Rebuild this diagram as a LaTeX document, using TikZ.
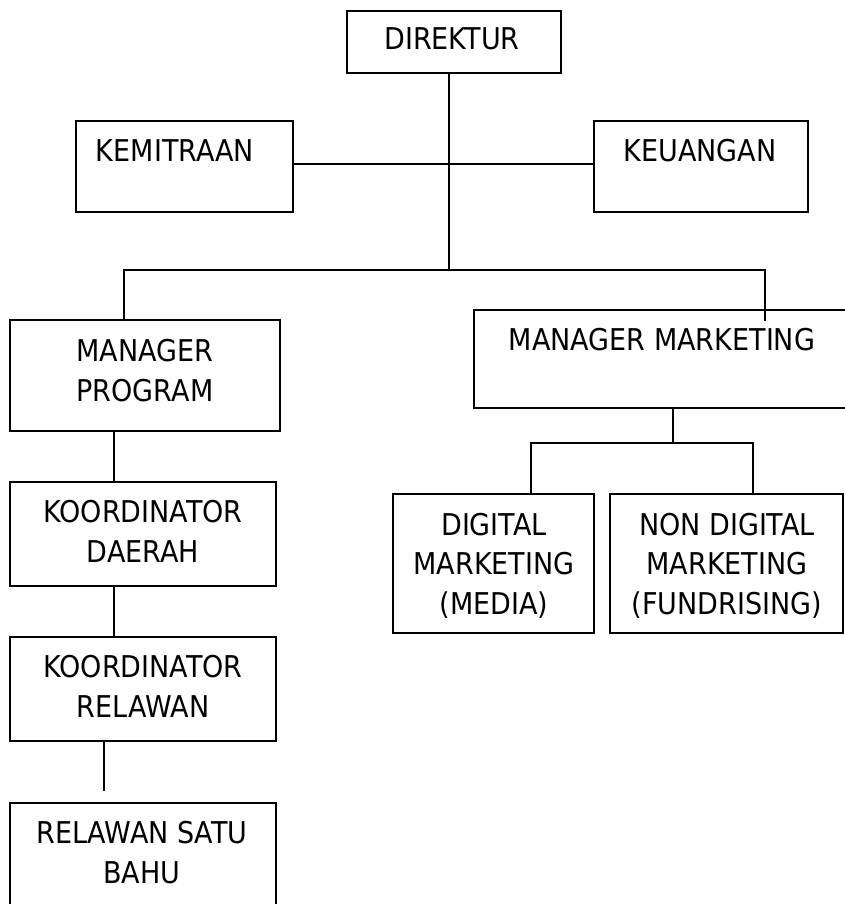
\documentclass[tikz,border=0pt]{standalone}
\usepackage{fontspec}
\setmainfont{DejaVu Sans}[FakeStretch=0.9]
\begin{document}
\begin{tikzpicture}[x=1pt,y=-1pt,
  box/.style={draw=black, line width=2pt, rectangle, anchor=north west, inner sep=0pt, outer sep=0pt},
  txt/.style={anchor=base, align=center, inner sep=0pt, text=black, font=\fontsize{30}{39.5}\selectfont},
  conn/.style={draw=black, line width=1.9pt}]
\clip (0,0) rectangle (845,904);
\fill[white] (0,0) rectangle (845,904);
% boxes
\node[box, minimum width=214pt, minimum height=62pt] (dir) at (347,11) {};
\node[box, minimum width=217pt, minimum height=91pt] (kem) at (76,121) {};
\node[box, minimum width=214pt, minimum height=91pt] (keu) at (594,121) {};
\node[box, minimum width=270pt, minimum height=111pt] (mp) at (10,320) {};
\node[box, minimum width=380pt, minimum height=98pt] (mm) at (474,310) {};
\node[box, minimum width=201pt, minimum height=139pt] (dig) at (393,494) {};
\node[box, minimum width=233pt, minimum height=139pt] (ndm) at (610,494) {};
\node[box, minimum width=266pt, minimum height=104pt] (kd) at (10,482) {};
\node[box, minimum width=266pt, minimum height=104pt] (kr) at (10,637) {};
\node[box, minimum width=266pt, minimum height=110pt] (rsb) at (10,803) {};
% texts (multi-line nodes are placed at the baseline of their last line)
\node[txt] (dirt) at (452,50) {DIREKTUR};
\node[txt] (kemt) at (175,162) {KEMITRAAN};
\node[txt] (keut) at (700,162) {KEUANGAN};
\node[txt] (mpt) at (145,401) {MANAGER\\PROGRAM};
\node[txt] (mmt) at (662,350) {MANAGER MARKETING};
\node[txt] (digt) at (494,614) {DIGITAL\\MARKETING\\(MEDIA)};
\node[txt] (ndmt) at (727,614) {NON DIGITAL\\MARKETING\\(FUNDRISING)};
\node[txt] (kdt) at (143,562) {KOORDINATOR\\DAERAH};
\node[txt] (krt) at (143,717) {KOORDINATOR\\RELAWAN};
\node[txt] (rsbt) at (142,883) {RELAWAN SATU\\BAHU};
% helper coordinates
\coordinate (hub) at (449,270);
\coordinate (mid) at (449,164);
\coordinate (lb) at (124,270);
\coordinate (rb) at (765,270);
\coordinate (rbend) at (765,321);
\coordinate (mmj) at (673,443);
\coordinate (dl) at (531,443);
\coordinate (dr) at (753,443);
\coordinate (lx) at (114,0);
\coordinate (rx) at (104,791);
% connectors
\draw[conn] (dir.south -| hub) -- (hub);
\draw[conn] (kem.east |- mid) -- (keu.west |- mid);
\draw[conn] (lb |- mp.north) -- (lb) -- (rb) -- (rbend);
\draw[conn] (mm.south -| mmj) -- (mmj);
\draw[conn] (dl |- dig.north) -- (dl) -- (dr) -- (dr |- ndm.north);
\draw[conn] (mp.south -| lx) -- (kd.north -| lx);
\draw[conn] (kd.south -| lx) -- (kr.north -| lx);
\draw[conn] (kr.south -| rx) -- (rx);
\end{tikzpicture}
\end{document}
